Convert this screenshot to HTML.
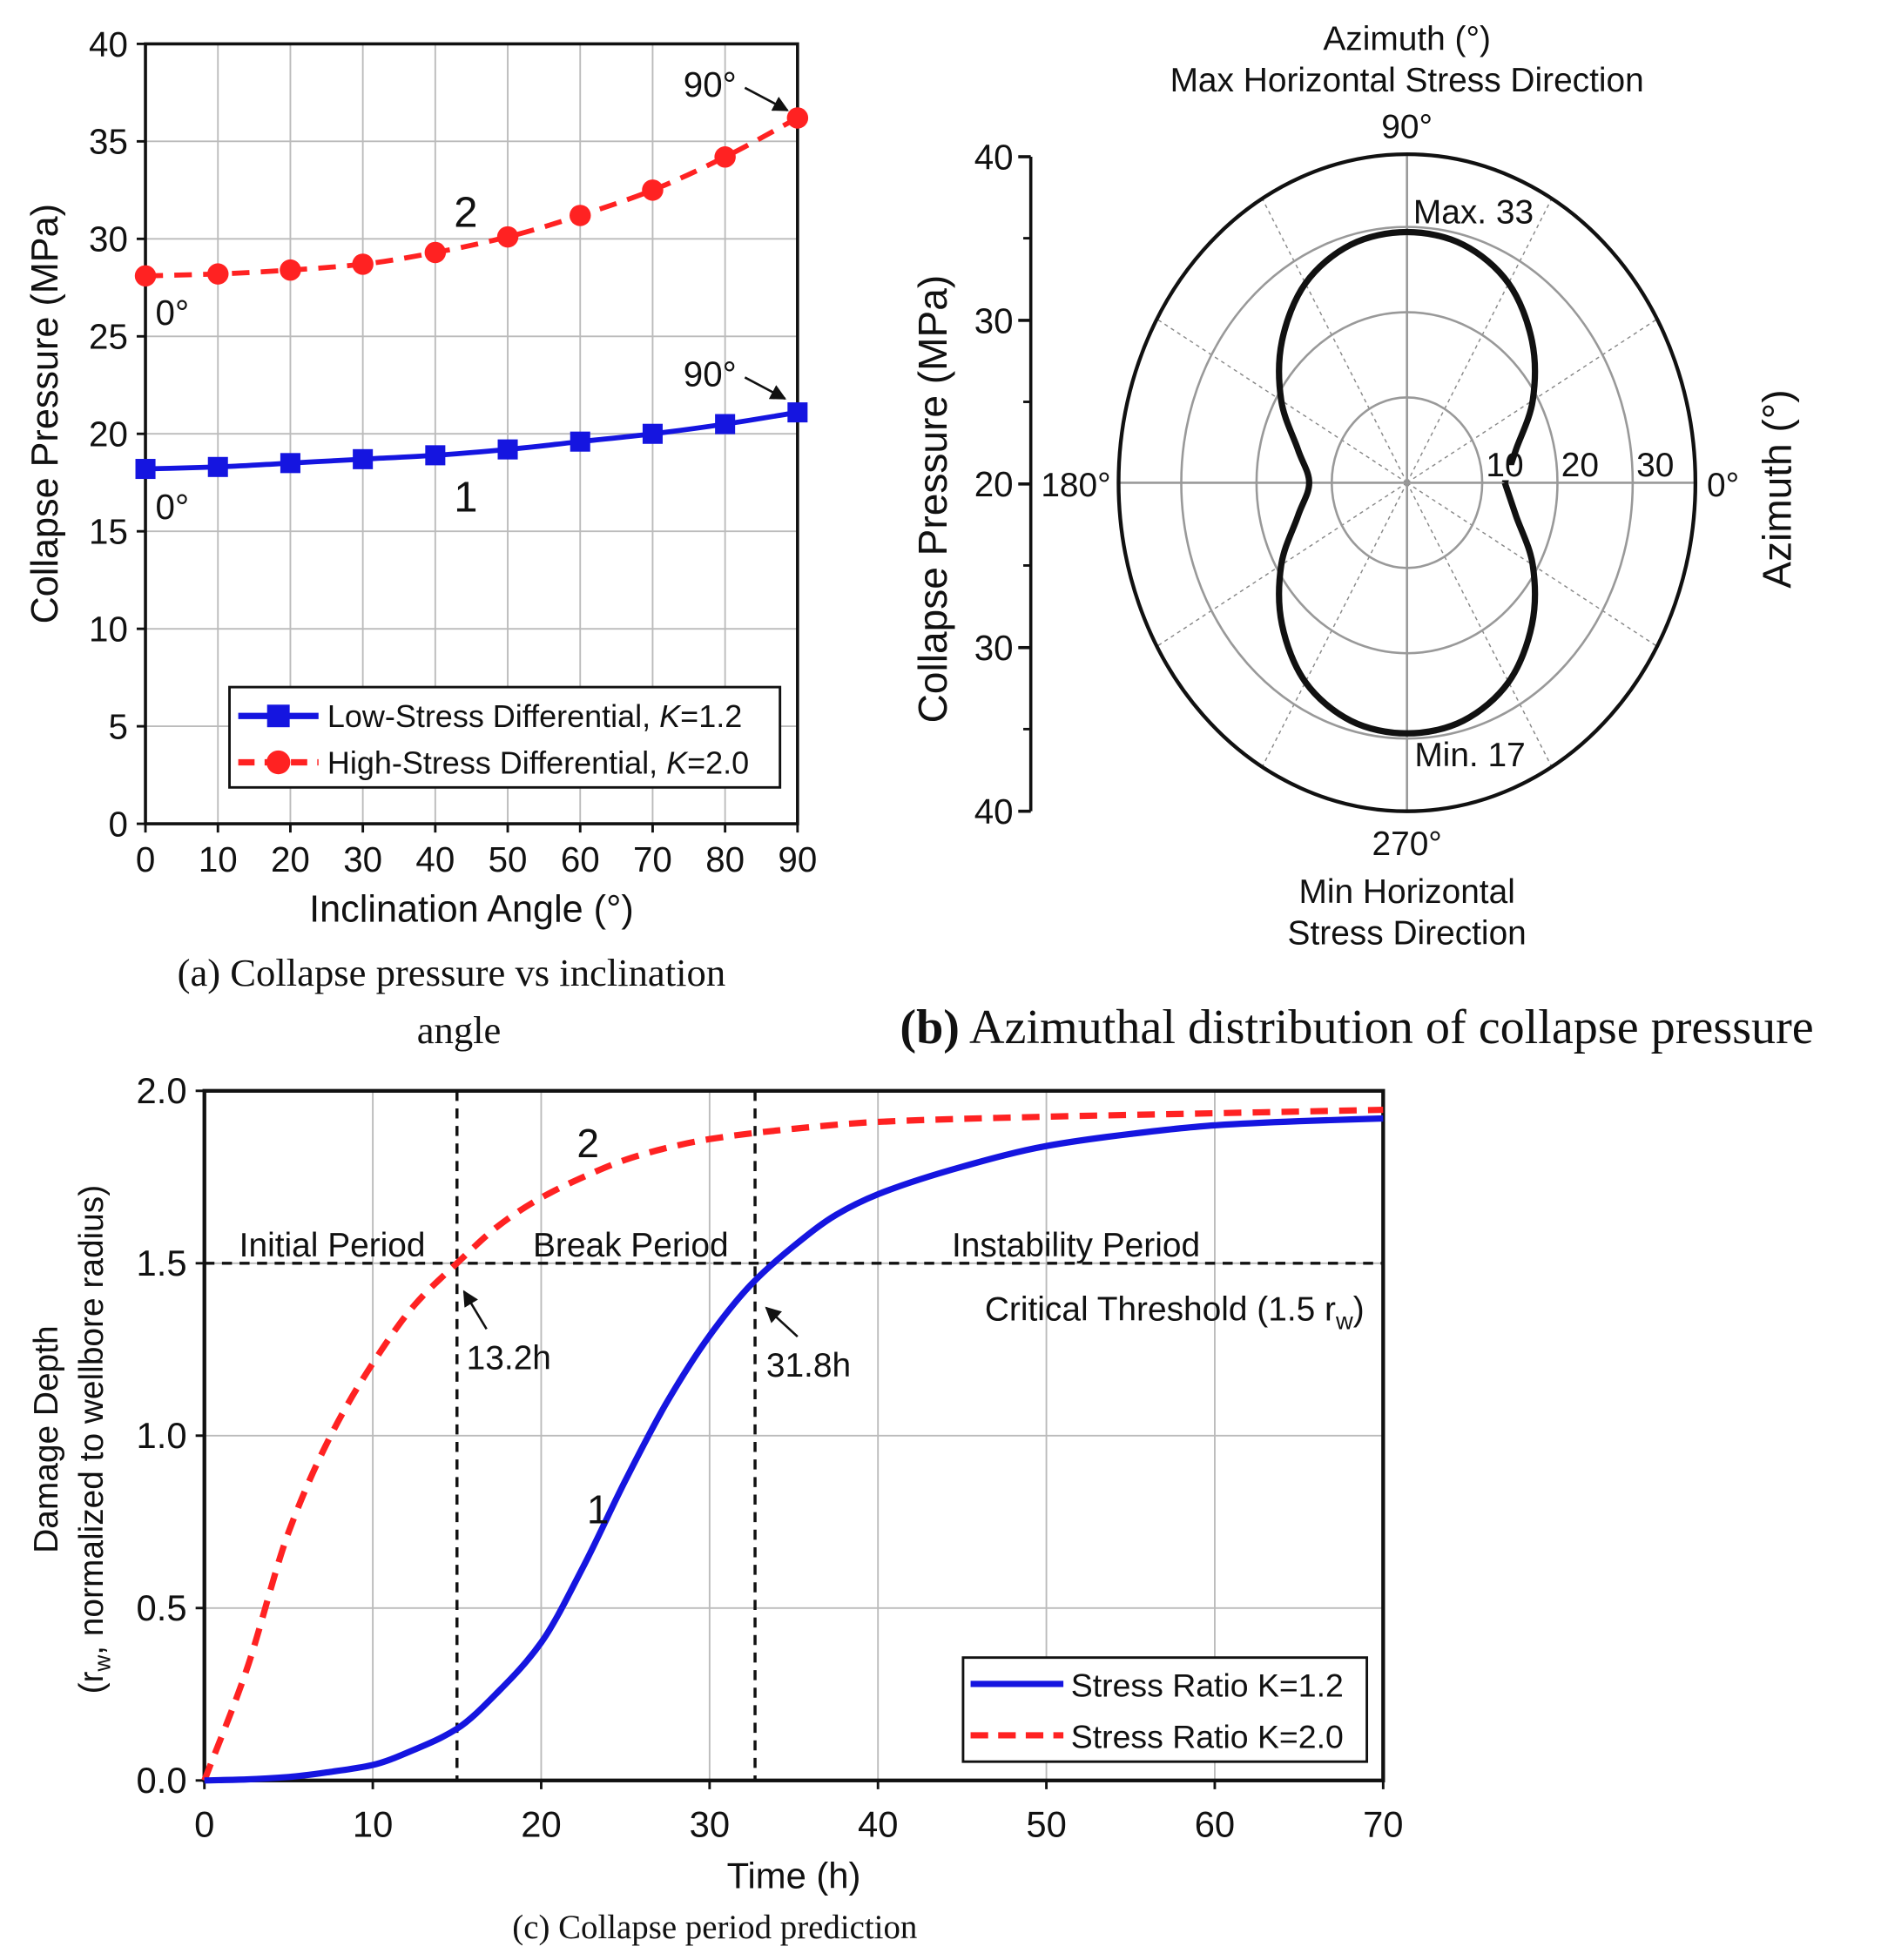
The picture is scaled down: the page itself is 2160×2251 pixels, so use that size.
<!DOCTYPE html>
<html><head><meta charset="utf-8"><style>
html,body{margin:0;padding:0;background:#fff;}
svg{display:block;}
text{font-family:"Liberation Sans",sans-serif;fill:#111;}
.serif{font-family:"Liberation Serif",serif;}
</style></head><body>
<svg id="fig" width="2160" height="2251" viewBox="0 0 1500 1563.2" xmlns="http://www.w3.org/2000/svg">
<defs>
<marker id="arr" viewBox="0 0 10 10" refX="9" refY="5" markerWidth="7" markerHeight="7" orient="auto"><path d="M0,0 L10,5 L0,10 z" fill="#111"/></marker>
</defs>
<g id="ga"></g>
<g id="gb"></g>
<g id="gc"></g>
</svg>
<script>
// ---- Chart A data ----
const aAngles = [0,10,20,30,40,50,60,70,80,90];
const aLow = [18.2,18.3,18.5,18.7,18.9,19.2,19.6,20.0,20.5,21.1];
const aHigh = [28.1,28.2,28.4,28.7,29.3,30.1,31.2,32.5,34.2,36.2];
const aYTicks = [0,5,10,15,20,25,30,35,40];
const aXTicks = [0,10,20,30,40,50,60,70,80,90];
// ---- Chart B data ----
const bAngles = [0,15,30,45,60,75,90,105,120,135,150,165,180,195,210,225,240,255,270,285,300,315,330,345,360];
const bRadius = [13,15,19.3,23.5,27,28.9,29.4,28.9,27,23.5,19.3,15,13,15,19.3,23.5,27,28.9,29.4,28.9,27,23.5,19.3,15,13];
const bRings = [10,20,30];
const bAxisLabels = ["40","30","20","30","40"];
// ---- Chart C data ----
const cTimeLow = [0,2.5,5,7.5,10,12.5,15,17.5,20,22.5,25,27.5,30,32.5,35,37.5,40,45,50,55,60,65,70];
const cLow = [0,0.003,0.01,0.025,0.045,0.09,0.15,0.26,0.4,0.62,0.87,1.1,1.29,1.44,1.55,1.64,1.7,1.78,1.84,1.875,1.9,1.912,1.92];
const cTimeHigh = [0,2.5,5,7.5,10,12.5,15,17.5,20,22.5,25,27.5,30,35,40,50,60,70];
const cHigh = [0,0.32,0.72,1.0,1.21,1.38,1.5,1.61,1.69,1.75,1.8,1.835,1.86,1.89,1.91,1.925,1.935,1.945];
const cXTicks = [0,10,20,30,40,50,60,70];
const cYTicks = [0,0.5,1.0,1.5,2.0];

const NS="http://www.w3.org/2000/svg";
function mk(parent,tag,attrs,txt){const e=document.createElementNS(NS,tag);for(const k in attrs)e.setAttribute(k,attrs[k]);if(txt!==undefined)e.textContent=txt;parent.appendChild(e);return e;}
function smooth(pts){let d="M"+pts[0][0]+","+pts[0][1];for(let i=0;i<pts.length-1;i++){const p0=pts[Math.max(0,i-1)],p1=pts[i],p2=pts[i+1],p3=pts[Math.min(pts.length-1,i+2)];const c1=[p1[0]+(p2[0]-p0[0])/6,p1[1]+(p2[1]-p0[1])/6],c2=[p2[0]-(p3[0]-p1[0])/6,p2[1]-(p3[1]-p1[1])/6];d+=" C"+c1[0]+","+c1[1]+" "+c2[0]+","+c2[1]+" "+p2[0]+","+p2[1];}return d;}
// monotone cubic (Fritsch-Carlson) in pixel space, sampled densely
function mono(xs,ys){const n=xs.length,dx=[],m=[],t=new Array(n);for(let i=0;i<n-1;i++){dx.push(xs[i+1]-xs[i]);m.push((ys[i+1]-ys[i])/dx[i]);}
t[0]=m[0];t[n-1]=m[n-2];for(let i=1;i<n-1;i++){t[i]=(m[i-1]*m[i]<=0)?0:(dx[i-1]+dx[i])*3/((2*dx[i]+dx[i-1])/m[i-1]+(dx[i]+2*dx[i-1])/m[i]);}
let d="M"+xs[0]+","+ys[0];for(let i=0;i<n-1;i++){const h=dx[i];d+=" C"+(xs[i]+h/3)+","+(ys[i]+t[i]*h/3)+" "+(xs[i+1]-h/3)+","+(ys[i+1]-t[i+1]*h/3)+" "+xs[i+1]+","+ys[i+1];}return d;}

// ===== Chart A =====
(function(){
const g=document.getElementById('ga');
const x0=116,x1=636,y0=657,y1=35;
const X=v=>x0+(v/90)*(x1-x0), Y=v=>y0-(v/40)*(y0-y1);
aXTicks.forEach(t=>{const l=mk(g,'line',{x1:X(t),x2:X(t),y1:y1,y2:y0,stroke:'#bbb','stroke-width':1.3});


const tx=mk(g,'text',{x:X(t),y:y0+38,'font-size':28,'text-anchor':'middle'},t);


mk(g,'line',{x1:X(t),x2:X(t),y1:y0,y2:y0+7,stroke:'#111','stroke-width':2});});
aYTicks.forEach(t=>{const l=mk(g,'line',{x1:x0,x2:x1,y1:Y(t),y2:Y(t),stroke:'#bbb','stroke-width':1.3});


const tx=mk(g,'text',{x:x0-14,y:Y(t)+10,'font-size':28,'text-anchor':'end'},t);


mk(g,'line',{x1:x0-7,x2:x0,y1:Y(t),y2:Y(t),stroke:'#111','stroke-width':2});});
mk(g,'rect',{x:x0,y:y1,width:x1-x0,height:y0-y1,fill:'none',stroke:'#111','stroke-width':2.5});
const hp=aAngles.map((a,i)=>[X(a),Y(aHigh[i])]);
const hl=mk(g,'path',{d:mono(hp.map(p=>p[0]),hp.map(p=>p[1])),fill:'none',stroke:'#f22','stroke-width':4,'stroke-dasharray':'14,9'});


hp.forEach(p=>{const c=mk(g,'circle',{cx:p[0],cy:p[1],r:8.5,fill:'#f22'});

});
const lp=aAngles.map((a,i)=>[X(a),Y(aLow[i])]);
const ll=mk(g,'path',{d:mono(lp.map(p=>p[0]),lp.map(p=>p[1])),fill:'none',stroke:'#1515e0','stroke-width':4});


lp.forEach(p=>{const r=mk(g,'rect',{x:p[0]-8,y:p[1]-8,width:16,height:16,fill:'#1515e0'});

});
mk(g,'text',{x:545,y:77,'font-size':28},'90°');
mk(g,'line',{x1:594,y1:70,x2:628,y2:88,stroke:'#111','stroke-width':1.8,'marker-end':'url(#arr)'});
mk(g,'text',{x:545,y:308,'font-size':28},'90°');
mk(g,'line',{x1:594,y1:301,x2:626,y2:318,stroke:'#111','stroke-width':1.8,'marker-end':'url(#arr)'});
mk(g,'text',{x:362,y:181,'font-size':34},'2');
mk(g,'text',{x:362,y:408,'font-size':34},'1');
mk(g,'text',{x:124,y:259,'font-size':28},'0°');
mk(g,'text',{x:124,y:414,'font-size':28},'0°');
const yt=mk(g,'text',{x:0,y:0,'font-size':30,'text-anchor':'middle',transform:'translate(46,330) rotate(-90)'},'Collapse Pressure (MPa)');


const xt=mk(g,'text',{x:376,y:735,'font-size':30,'text-anchor':'middle'},'Inclination Angle (°)');


const lg=mk(g,'g',{});


mk(lg,'rect',{x:183,y:548,width:439,height:80,fill:'#fff',stroke:'#111','stroke-width':2});
mk(lg,'line',{x1:190,x2:254,y1:571,y2:571,stroke:'#1515e0','stroke-width':5});
mk(lg,'rect',{x:213,y:562,width:18,height:18,fill:'#1515e0'});
const t1=mk(lg,'text',{x:261,y:580,'font-size':25},'Low-Stress Differential, ');
mk(t1,'tspan',{'font-style':'italic'},'K');mk(t1,'tspan',{},'=1.2');
mk(lg,'line',{x1:190,x2:254,y1:608,y2:608,stroke:'#f22','stroke-width':5,'stroke-dasharray':'13,8'});
mk(lg,'circle',{cx:222,cy:608,r:9.5,fill:'#f22'});
const t2=mk(lg,'text',{x:261,y:617,'font-size':25},'High-Stress Differential, ');
mk(t2,'tspan',{'font-style':'italic'},'K');mk(t2,'tspan',{},'=2.0');
mk(g,'text',{x:360,y:786,'font-size':31,'text-anchor':'middle',class:'serif'},'(a) Collapse pressure vs inclination');
mk(g,'text',{x:366,y:832,'font-size':31,'text-anchor':'middle',class:'serif'},'angle');
})();

// ===== Chart B =====
(function(){
const g=document.getElementById('gb');
const cx=1122,cy=385,sx=6.0,sy=6.8;
const P=(r,a)=>[cx+r*sx*Math.cos(a*Math.PI/180),cy-r*sy*Math.sin(a*Math.PI/180)];
for(let a=30;a<360;a+=30){if(a%90===0)continue;const p=P(38.3,a);mk(g,'line',{x1:cx,y1:cy,x2:p[0],y2:p[1],stroke:'#888','stroke-width':1,'stroke-dasharray':'3,3'});}
mk(g,'line',{x1:cx-230,x2:cx+230,y1:cy,y2:cy,stroke:'#999','stroke-width':1.8});
mk(g,'line',{x1:cx,x2:cx,y1:cy-262,y2:cy+262,stroke:'#999','stroke-width':1.8});
bRings.forEach(r=>{const e=mk(g,'ellipse',{cx:cx,cy:cy,rx:r*sx,ry:r*sy,fill:'none',stroke:'#999','stroke-width':1.8});

});
mk(g,'ellipse',{cx:cx,cy:cy,rx:230,ry:262,fill:'none',stroke:'#111','stroke-width':3});
const pts=bAngles.map((a,i)=>P(bRadius[i],a));
const c=mk(g,'path',{d:smooth(pts),fill:'none',stroke:'#111','stroke-width':5});


mk(g,'rect',{x:cx+12*sx,y:cy-14,width:18,height:12,fill:'#fff'});
bRings.forEach(r=>{const t=mk(g,'text',{x:cx+r*sx+18,y:cy-5,'font-size':27,'text-anchor':'middle'},r);

});
mk(g,'text',{x:cx+5,y:178,'font-size':27},'Max. 33');
mk(g,'text',{x:cx+6,y:611,'font-size':27},'Min. 17');
mk(g,'line',{x1:822,x2:822,y1:125,y2:647,stroke:'#111','stroke-width':2.5});
bAxisLabels.forEach((l,i)=>{const y=125+i*130.5;mk(g,'line',{x1:812,x2:822,y1:y,y2:y,stroke:'#111','stroke-width':2.5});
if(i<4)mk(g,'line',{x1:816,x2:822,y1:y+65,y2:y+65,stroke:'#111','stroke-width':2});
const t=mk(g,'text',{x:808,y:y+10,'font-size':28,'text-anchor':'end'},l);

});
mk(g,'text',{x:1122,y:40,'font-size':27,'text-anchor':'middle'},'Azimuth (°)');
mk(g,'text',{x:1122,y:73,'font-size':27,'text-anchor':'middle'},'Max Horizontal Stress Direction');
mk(g,'text',{x:1122,y:110,'font-size':27,'text-anchor':'middle'},'90°');
mk(g,'text',{x:858,y:396,'font-size':27,'text-anchor':'middle'},'180°');
mk(g,'text',{x:1374,y:396,'font-size':27,'text-anchor':'middle'},'0°');
mk(g,'text',{x:1122,y:682,'font-size':27,'text-anchor':'middle'},'270°');
mk(g,'text',{x:1122,y:720,'font-size':27,'text-anchor':'middle'},'Min Horizontal');
mk(g,'text',{x:1122,y:753,'font-size':27,'text-anchor':'middle'},'Stress Direction');
mk(g,'text',{x:0,y:0,'font-size':32,'text-anchor':'middle',transform:'translate(755,398) rotate(-90)'},'Collapse Pressure (MPa)');
mk(g,'text',{x:0,y:0,'font-size':32,'text-anchor':'middle',transform:'translate(1428,390) rotate(-90)'},'Azimuth (°)');
const cap=mk(g,'text',{x:1082,y:832,'font-size':39,'text-anchor':'middle',class:'serif'},'');
mk(cap,'tspan',{'font-weight':'bold'},'(b)');mk(cap,'tspan',{},' Azimuthal distribution of collapse pressure');
})();

// ===== Chart C =====
(function(){
const g=document.getElementById('gc');
const x0=163,x1=1103,y0=1420,y1=870;
const X=v=>x0+(v/70)*(x1-x0), Y=v=>y0-(v/2)*(y0-y1);
cXTicks.forEach(t=>{mk(g,'line',{x1:X(t),x2:X(t),y1:y1,y2:y0,stroke:'#bbb','stroke-width':1.3});
mk(g,'line',{x1:X(t),x2:X(t),y1:y0,y2:y0+7,stroke:'#111','stroke-width':2});
const tx=mk(g,'text',{x:X(t),y:y0+45,'font-size':29,'text-anchor':'middle'},t);

});
cYTicks.forEach(t=>{mk(g,'line',{x1:x0,x2:x1,y1:Y(t),y2:Y(t),stroke:'#bbb','stroke-width':1.3});
mk(g,'line',{x1:x0-7,x2:x0,y1:Y(t),y2:Y(t),stroke:'#111','stroke-width':2});
const tx=mk(g,'text',{x:x0-14,y:Y(t)+10,'font-size':29,'text-anchor':'end'},t.toFixed(1));

});
mk(g,'rect',{x:x0,y:y1,width:x1-x0,height:y0-y1,fill:'none',stroke:'#111','stroke-width':3});
mk(g,'line',{x1:x0,x2:x1,y1:Y(1.5),y2:Y(1.5),stroke:'#111','stroke-width':2.4,'stroke-dasharray':'8,6'});
mk(g,'line',{x1:X(15),x2:X(15),y1:y1,y2:y0,stroke:'#111','stroke-width':2.4,'stroke-dasharray':'8,6'});
mk(g,'line',{x1:X(32.7),x2:X(32.7),y1:y1,y2:y0,stroke:'#111','stroke-width':2.4,'stroke-dasharray':'8,6'});
const h=mk(g,'path',{d:mono(cTimeHigh.map(X),cHigh.map(Y)),fill:'none',stroke:'#f22','stroke-width':5,'stroke-dasharray':'14,9'});


const l=mk(g,'path',{d:mono(cTimeLow.map(X),cLow.map(Y)),fill:'none',stroke:'#1515e0','stroke-width':5});


mk(g,'text',{x:265,y:1002,'font-size':27,'text-anchor':'middle'},'Initial Period');
mk(g,'text',{x:503,y:1002,'font-size':27,'text-anchor':'middle'},'Break Period');
mk(g,'text',{x:858,y:1002,'font-size':27,'text-anchor':'middle'},'Instability Period');
const ct=mk(g,'text',{x:1088,y:1053,'font-size':27,'text-anchor':'end'},'Critical Threshold (1.5 r');
mk(ct,'tspan',{'font-size':19,dy:7},'w');mk(ct,'tspan',{dy:-7},')');
mk(g,'text',{x:372,y:1092,'font-size':27},'13.2h');
mk(g,'line',{x1:388,y1:1060,x2:370,y2:1030,stroke:'#111','stroke-width':1.8,'marker-end':'url(#arr)'});
mk(g,'text',{x:611,y:1098,'font-size':27},'31.8h');
mk(g,'line',{x1:636,y1:1066,x2:611,y2:1043,stroke:'#111','stroke-width':1.8,'marker-end':'url(#arr)'});
mk(g,'text',{x:460,y:923,'font-size':32},'2');
mk(g,'text',{x:468,y:1215,'font-size':32},'1');
mk(g,'text',{x:633,y:1506,'font-size':29,'text-anchor':'middle'},'Time (h)');
mk(g,'text',{x:0,y:0,'font-size':27,'text-anchor':'middle',transform:'translate(46,1148) rotate(-90)'},'Damage Depth');
const y2=mk(g,'text',{x:0,y:0,'font-size':27,'text-anchor':'middle',transform:'translate(82,1148) rotate(-90)'},'(r');
mk(y2,'tspan',{'font-size':18,dy:6},'w');mk(y2,'tspan',{dy:-6},', normalized to wellbore radius)');
const lg=mk(g,'g',{});


mk(lg,'rect',{x:768,y:1322,width:322,height:83,fill:'#fff',stroke:'#111','stroke-width':2});
mk(lg,'line',{x1:774,x2:848,y1:1343,y2:1343,stroke:'#1515e0','stroke-width':5});
mk(lg,'text',{x:854,y:1353,'font-size':26},'Stress Ratio K=1.2');
mk(lg,'line',{x1:774,x2:848,y1:1384,y2:1384,stroke:'#f22','stroke-width':5,'stroke-dasharray':'14,8'});
mk(lg,'text',{x:854,y:1394,'font-size':26},'Stress Ratio K=2.0');
mk(g,'text',{x:570,y:1546,'font-size':27,'text-anchor':'middle',class:'serif'},'(c) Collapse period prediction');
})();
</script>
</body></html>
